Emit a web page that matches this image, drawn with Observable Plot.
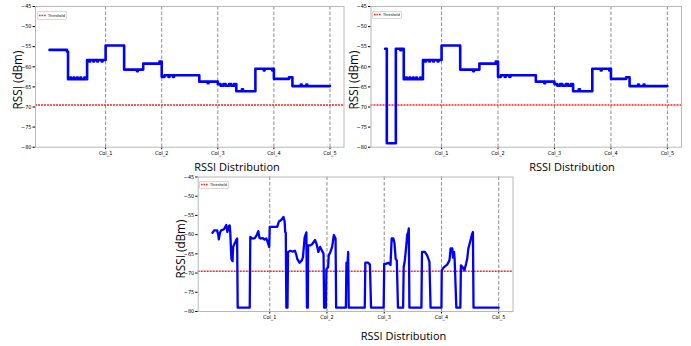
<!DOCTYPE html>
<html><head><meta charset="utf-8">
<script src="https://cdn.jsdelivr.net/npm/d3@7"></script>
<script src="https://cdn.jsdelivr.net/npm/@observablehq/plot@0.6"></script>
<style>
body{margin:0;background:#fff}
#wrap{position:relative;width:691px;height:346px;overflow:hidden;background:#fff}
.panel{position:absolute}
.ylab{position:absolute;font-family:"Open Sans",sans-serif;font-size:11.7px;color:#000;white-space:nowrap;transform:translate(-50%,-50%) rotate(-90deg);line-height:1}
.xlab{position:absolute;font-family:"Open Sans",sans-serif;font-size:11px;color:#000;white-space:nowrap;transform:translate(-50%,-50%);line-height:1}
.leg{position:absolute;background:#fff;border:1px solid #d8d8d8;border-radius:1px;font-family:"DejaVu Sans Condensed","DejaVu Sans",sans-serif;font-size:3.8px;line-height:1;padding:1.5px 1.5px;white-space:nowrap;display:flex;align-items:center}
.leg svg{margin-right:2px;display:block}
</style>
</head><body>
<div id="wrap"></div>
<script>
// ---------- data ----------
const xTickPos = [1, 2, 3, 4, 5];
const xTickLabels = ["Col_1", "Col_2", "Col_3", "Col_4", "Col_5"];
const yTicks = [-80, -75, -70, -65, -60, -55, -50, -45];
const threshold = -69.5;
const xLabel = "RSSI Distribution";
const yLabel = "RSSI (dBm)";
const legendLabel = "Threshold";

// Panel 1 (top-left) – step series
const p1X = [0, 0.31,
  0.33, 0.37, 0.385, 0.43, 0.445, 0.49, 0.505, 0.55, 0.565, 0.62, 0.635,
  0.67, 0.71, 0.725, 0.78, 0.795, 0.85, 0.865, 0.93, 0.945,
  1.0, 1.33, 1.56, 1.575, 1.67, 1.96,
  2.0, 2.05, 2.12, 2.14, 2.2, 2.22,
  2.67, 2.82, 2.835,
  3.0, 3.05, 3.1, 3.14, 3.2, 3.24, 3.29,
  3.33, 3.43, 3.45,
  3.67, 3.82, 3.835, 3.97, 3.985,
  4.0, 4.27, 4.33, 4.48, 4.495, 4.58, 4.595, 5.0];
const p1Y = [-55.8, -56.2,
  -63.1, -62.7, -63.1, -62.7, -63.1, -62.7, -63.1, -62.7, -63.1, -62.7, -63.1,
  -58.3, -58.7, -58.3, -58.7, -58.3, -58.7, -58.3, -58.7, -58.3,
  -54.7, -60.7, -61.1, -60.7, -59.2, -58.7,
  -62.5, -62.1, -62.5, -62.1, -62.5, -62.1,
  -63.7, -64.1, -63.7,
  -64.3, -64.7, -64.3, -64.7, -64.3, -64.7, -64.3,
  -66.1, -65.6, -66.1,
  -60.5, -60.9, -60.5, -60.9, -60.5,
  -63.0, -62.6, -64.8, -64.4, -64.8, -64.4, -64.8, -64.8];

// Panel 2 (top-right) – step series
const p2X = [0, 0.03, 0.19, 0.27, 0.285,
  0.33, 0.37, 0.385, 0.43, 0.445, 0.49, 0.505, 0.55, 0.565, 0.62, 0.635,
  0.67, 0.71, 0.725, 0.78, 0.795, 0.85, 0.865, 0.93, 0.945,
  1.0, 1.33, 1.56, 1.575, 1.67, 1.96,
  2.0, 2.05, 2.12, 2.14, 2.2, 2.22,
  2.67, 2.82, 2.835,
  3.0, 3.05, 3.1, 3.14, 3.2, 3.24, 3.29,
  3.33, 3.43, 3.45,
  3.67, 3.82, 3.835, 3.97, 3.985,
  4.0, 4.27, 4.33, 4.48, 4.495, 4.58, 4.595, 5.0];
const p2Y = [-55.5, -79, -55.5, -55.9, -55.5,
  -63.1, -62.7, -63.1, -62.7, -63.1, -62.7, -63.1, -62.7, -63.1, -62.7, -63.1,
  -58.3, -58.7, -58.3, -58.7, -58.3, -58.7, -58.3, -58.7, -58.3,
  -54.7, -60.7, -61.1, -60.7, -59.2, -58.7,
  -62.5, -62.1, -62.5, -62.1, -62.5, -62.1,
  -63.7, -64.1, -63.7,
  -64.3, -64.7, -64.3, -64.7, -64.3, -64.7, -64.3,
  -66.1, -65.6, -66.1,
  -60.5, -60.9, -60.5, -60.9, -60.5,
  -63.0, -62.6, -64.8, -64.4, -64.8, -64.4, -64.8, -64.8];

// Panel 3 (bottom) – raw series
const p3X = [0, 0.03, 0.08, 0.10, 0.11, 0.13, 0.15, 0.2, 0.24, 0.26, 0.29, 0.30, 0.31, 0.33, 0.35, 0.36, 0.41, 0.43,
  0.44, 0.65, 0.66, 0.69, 0.74, 0.77, 0.80, 0.82, 0.84, 0.88, 0.91, 0.94, 0.97, 0.99,
  1.0, 1.13, 1.16, 1.2, 1.24, 1.26, 1.27, 1.28, 1.29, 1.31, 1.32, 1.36, 1.40, 1.44, 1.46, 1.48, 1.52, 1.56, 1.58, 1.61, 1.64,
  1.65, 1.665, 1.67, 1.71, 1.74, 1.79, 1.82, 1.85, 1.88, 1.92, 1.94, 1.95, 1.98,
  1.99, 2.02, 2.03, 2.06, 2.09, 2.12, 2.15, 2.16, 2.33, 2.34, 2.36, 2.37, 2.38,
  2.66, 2.67, 2.72, 2.75, 2.77, 2.99,
  3.0, 3.03, 3.07, 3.11, 3.13, 3.16, 3.18, 3.2, 3.22, 3.24, 3.33, 3.34, 3.36, 3.39, 3.40, 3.42, 3.43, 3.44,
  3.65, 3.66, 3.71, 3.75, 3.79, 3.81, 4.0,
  4.005, 4.04, 4.10, 4.14, 4.16, 4.19, 4.2, 4.22, 4.23, 4.26, 4.33, 4.34, 4.37, 4.4, 4.43, 4.45, 4.47, 4.5, 4.53, 4.55, 4.56, 5.0];
const p3Y = [-59.5, -58.9, -58.9, -60, -61.2, -59.5, -58.9, -58.6, -57.5, -59.3, -57.7, -57.6, -59.3, -66.3, -66.9, -63.2, -61.5, -61.0,
  -79, -79, -60.6, -61, -60.9, -60.2, -59.1, -60.8, -61, -60.9, -61.3, -61, -62.2, -63.2,
  -58, -58, -56.6, -56.2, -55.4, -56.6, -59.3, -59.5, -79, -79, -64.5, -64.2, -64.4, -64.2, -65, -66.3, -67.3, -66.7, -65.9, -60.7, -59.4,
  -79, -79, -62.8, -62.8, -62.5, -61.4, -62.5, -64.5, -63.2, -64.4, -65, -79, -79,
  -69, -68.5, -65.4, -64.5, -63.2, -60.1, -61, -79, -79, -67.3, -67.3, -64.5, -79,
  -79, -67.3, -67.3, -67.8, -79, -79,
  -67.6, -67.6, -67.3, -67.9, -61, -61, -62.3, -66.3, -66.7, -79, -79, -68.5, -66.7, -62.3, -60.1, -59.3, -58.4, -79,
  -79, -64.5, -64.5, -65.4, -67.1, -79, -79,
  -69.3, -68.5, -67.8, -66.7, -63.6, -63.6, -66, -64.5, -66.3, -79, -79, -68, -68.5, -69.3, -67.6, -66.3, -63.6, -61.9, -60.1, -59.3, -79, -79];

// ---------- drawing ----------
const wrap = document.getElementById("wrap");
const minus = d => "\u2212" + Math.abs(d);
const NS = "http://www.w3.org/2000/svg";

function addPanel(cfg, xs, ys, curve) {
  const data = xs.map((x, i) => ({x, y: ys[i]}));
  const svg = Plot.plot({
    width: cfg.w, height: cfg.h,
    marginLeft: cfg.ml, marginRight: cfg.mr, marginTop: cfg.mt, marginBottom: cfg.mb,
    style: {fontFamily: "'Liberation Sans Narrow','DejaVu Sans Condensed','DejaVu Sans',sans-serif", fontSize: "5.5px", background: "transparent", color: "#000"},
    x: {domain: [-0.25, 5.25], ticks: xTickPos, tickFormat: d => xTickLabels[xTickPos.indexOf(d)], tickSize: 2.5, tickPadding: 1.5, label: null},
    y: {domain: [-80, -45], ticks: yTicks, tickFormat: minus, tickSize: 2.5, tickPadding: 1.5, label: null},
    marks: [
      Plot.ruleX(xTickPos, {stroke: "#808080", strokeWidth: 0.9, strokeDasharray: "3.5,2"}),
      Plot.ruleY([threshold], {stroke: "#ff2020", strokeWidth: 1.5, strokeDasharray: "2,1"}),
      Plot.line(data, {x: "x", y: "y", curve, stroke: "#0000ff", strokeWidth: cfg.lw}),
      Plot.frame({stroke: "#b8b8b8", strokeWidth: 1})
    ]
  });
  svg.classList.add("panel");
  svg.style.left = cfg.left + "px";
  svg.style.top = cfg.top + "px";
  wrap.appendChild(svg);

  const yl = document.createElement("div");
  yl.className = "ylab"; yl.textContent = yLabel;
  yl.style.left = cfg.ylx + "px"; yl.style.top = cfg.yly + "px";
  wrap.appendChild(yl);

  const xl = document.createElement("div");
  xl.className = "xlab"; xl.textContent = xLabel;
  xl.style.left = cfg.xlx + "px"; xl.style.top = cfg.xly + "px";
  wrap.appendChild(xl);

  const lg = document.createElement("div");
  lg.className = "leg";
  const sw = document.createElementNS(NS, "svg");
  sw.setAttribute("width", "7"); sw.setAttribute("height", "3");
  const ln = document.createElementNS(NS, "line");
  ln.setAttribute("x1", "0"); ln.setAttribute("x2", "7");
  ln.setAttribute("y1", "1.5"); ln.setAttribute("y2", "1.5");
  ln.setAttribute("stroke", "#ff2020"); ln.setAttribute("stroke-width", "1.3");
  ln.setAttribute("stroke-dasharray", "1.6,0.9");
  sw.appendChild(ln);
  lg.appendChild(sw);
  const sp = document.createElement("span");
  sp.textContent = legendLabel;
  lg.appendChild(sp);
  lg.style.left = cfg.lgx + "px"; lg.style.top = cfg.lgy + "px";
  wrap.appendChild(lg);
}

addPanel({left: 0, top: 0, w: 346, h: 162, ml: 35, mr: 2.5, mt: 6, mb: 15.3, lw: 2.6,
  ylx: 18, yly: 80, xlx: 237, xly: 166, lgx: 36.5, lgy: 11}, p1X, p1Y, "step-after");
addPanel({left: 345, top: 0, w: 346, h: 162, ml: 25.5, mr: 10, mt: 6, mb: 15.3, lw: 2.6,
  ylx: 353.5, yly: 80, xlx: 572, xly: 166, lgx: 371.5, lgy: 10.5}, p2X, p2Y, "step-after");
addPanel({left: 160, top: 170, w: 360, h: 162, ml: 37.7, mr: 7.5, mt: 6.5, mb: 21, lw: 2.3,
  ylx: 181, yly: 249, xlx: 403.5, xly: 335, lgx: 198.5, lgy: 180.5}, p3X, p3Y, "linear");
</script>
</body></html>
